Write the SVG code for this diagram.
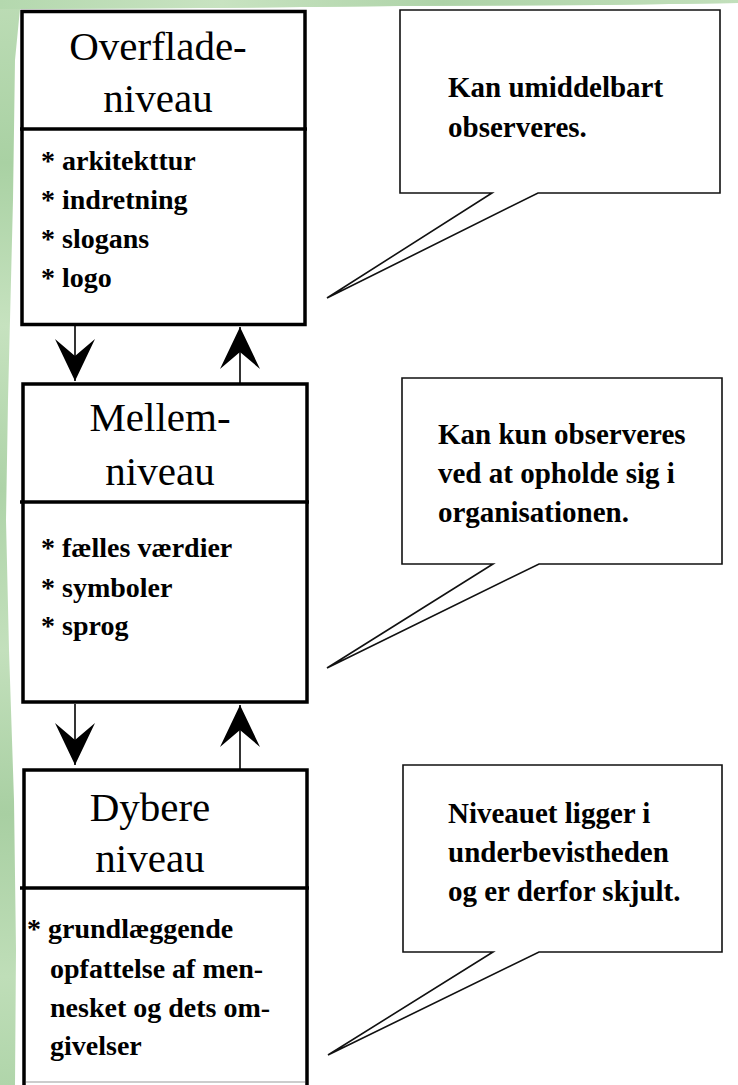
<svg xmlns="http://www.w3.org/2000/svg" width="738" height="1085" viewBox="0 0 738 1085">
<style>
.box{fill:#fff;stroke:#000;stroke-width:3.5}
.div{stroke:#000;stroke-width:3.5}
.call{fill:#fff;stroke:#111;stroke-width:1.6;stroke-linejoin:miter}
.hd{font-family:"Liberation Serif","Times New Roman",serif;font-size:41px;fill:#000;text-anchor:middle}
.it{font-family:"Liberation Serif","Times New Roman",serif;font-size:28px;font-weight:bold;fill:#000}
.ct{font-family:"Liberation Serif","Times New Roman",serif;font-size:29px;font-weight:bold;fill:#000}
.con{stroke:#000;stroke-width:1.6;fill:none}
</style>
<defs>
<linearGradient id="gv" x1="0" y1="0" x2="0" y2="1">
<stop offset="0" stop-color="#bcdcb5"/>
<stop offset="0.15" stop-color="#a9d1a3"/>
<stop offset="0.3" stop-color="#c6e2bf"/>
<stop offset="0.45" stop-color="#aed3a8"/>
<stop offset="0.6" stop-color="#c3e0bc"/>
<stop offset="0.75" stop-color="#a8cfa2"/>
<stop offset="0.9" stop-color="#bfdeb8"/>
<stop offset="1" stop-color="#b0d5aa"/>
</linearGradient>
<linearGradient id="gh" x1="0" y1="0" x2="1" y2="0">
<stop offset="0" stop-color="#b4d8ae"/>
<stop offset="0.3" stop-color="#c8e3c1"/>
<stop offset="0.6" stop-color="#aed3a8"/>
<stop offset="1" stop-color="#c2dfbb"/>
</linearGradient>
<marker id="ah" markerUnits="userSpaceOnUse" markerWidth="50" markerHeight="50" viewBox="-45 -25 50 50" refX="0" refY="0" orient="auto">
<path d="M0,0 L-42,-20 L-25,0 L-42,20 Z" fill="#000"/>
</marker>
</defs>
<rect x="0" y="0" width="738" height="1085" fill="#fff"/>
<g id="background">
<path d="M0,0 H738 V3 L600,5 L400,6 L200,8 L20,9 L15,60 L13,200 L8,400 L6,520 L9,650 L14,800 L16,950 L15,1085 H0 Z" fill="url(#gv)"/>
<path d="M0,0 H738 V3 L600,5 L400,6 L200,8 L20,9 L0,9 Z" fill="url(#gh)"/>
</g>
<g id="connectors">
<line class="con" x1="75" y1="326" x2="75" y2="381" marker-end="url(#ah)"/>
<line class="con" x1="240" y1="383" x2="240" y2="327" marker-end="url(#ah)"/>
<line class="con" x1="75" y1="704" x2="75" y2="765" marker-end="url(#ah)"/>
<line class="con" x1="240" y1="769" x2="240" y2="705" marker-end="url(#ah)"/>
</g>
<g id="node-overflade">
<rect class="box" x="22" y="11.5" width="283" height="313"/>
<line class="div" x1="20" y1="129" x2="307" y2="129"/>
<text class="hd" x="158" y="60">Overflade-</text>
<text class="hd" x="158" y="112">niveau</text>
<text class="it" x="41" y="170">* arkitekttur</text>
<text class="it" x="41" y="209">* indretning</text>
<text class="it" x="41" y="248">* slogans</text>
<text class="it" x="41" y="287">* logo</text>
</g>
<g id="node-mellem">
<rect class="box" x="23" y="384" width="284" height="318"/>
<line class="div" x1="20" y1="502" x2="309" y2="502"/>
<text class="hd" x="160" y="431">Mellem-</text>
<text class="hd" x="160" y="485">niveau</text>
<text class="it" x="41" y="557">* fælles værdier</text>
<text class="it" x="41" y="597">* symboler</text>
<text class="it" x="41" y="635">* sprog</text>
</g>
<g id="node-dybere">
<path d="M24,1085 V770 H307 V1085" fill="#fff" stroke="#000" stroke-width="3.5"/>
<line x1="26" y1="1082" x2="305" y2="1082" stroke="#bbb" stroke-width="1.5"/>
<line class="div" x1="20" y1="888" x2="309" y2="888"/>
<text class="hd" x="150" y="821">Dybere</text>
<text class="hd" x="150" y="872">niveau</text>
<text class="it" x="27" y="938">* grundlæggende</text>
<text class="it" x="50" y="978">opfattelse af men-</text>
<text class="it" x="50" y="1017">nesket og dets om-</text>
<text class="it" x="50" y="1055">givelser</text>
</g>
<g id="callout-1">
<path class="call" d="M400,10 H720 V193 H538 L327,298 L492,193 H400 Z"/>
<text class="ct" x="448" y="97">Kan umiddelbart</text>
<text class="ct" x="448" y="137">observeres.</text>
</g>
<g id="callout-2">
<path class="call" d="M402,378 H722 V564 H539 L327,668 L493,564 H402 Z"/>
<text class="ct" x="438" y="444">Kan kun observeres</text>
<text class="ct" x="438" y="483">ved at opholde sig i</text>
<text class="ct" x="438" y="522">organisationen.</text>
</g>
<g id="callout-3">
<path class="call" d="M403,765 H722 V952 H539 L328,1055 L493,952 H403 Z"/>
<text class="ct" x="448" y="823">Niveauet ligger i</text>
<text class="ct" x="448" y="862">underbevistheden</text>
<text class="ct" x="448" y="901">og er derfor skjult.</text>
</g>
</svg>
